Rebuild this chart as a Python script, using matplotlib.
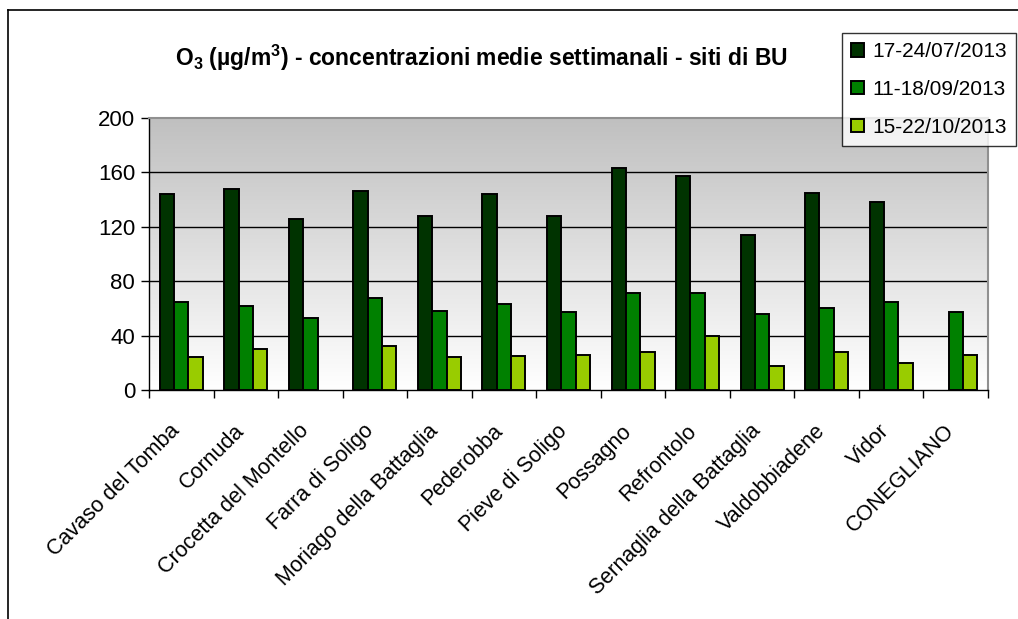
import numpy as np
import matplotlib
matplotlib.use('Agg')
import matplotlib.pyplot as plt
from matplotlib.lines import Line2D
from matplotlib.transforms import ScaledTranslation

plt.rcParams['font.family'] = ['Liberation Sans', 'DejaVu Sans']
plt.rcParams['mathtext.default'] = 'regular'

sites = ['Cavaso del Tomba', 'Cornuda', 'Crocetta del Montello', 'Farra di Soligo',
         'Moriago della Battaglia', 'Pederobba', 'Pieve di Soligo', 'Possagno',
         'Refrontolo', 'Sernaglia della Battaglia', 'Valdobbiadene', 'Vidor', 'CONEGLIANO']
periods = ['17-24/07/2013', '11-18/09/2013', '15-22/10/2013']
jul = [144, 148, 126, 146, 128, 144, 128, 163, 157, 114, 145, 138, np.nan]
sep = [65, 62, 53, 68, 58, 63, 57, 71, 71, 56, 60, 65, 57]
oct_ = [24, 30, np.nan, 32, 24, 25, 26, 28, 40, 18, 28, 20, 26]
colors = ['#003300', '#008000', '#99CC00']

fig = plt.figure(figsize=(10.18, 6.19), dpi=100, facecolor='white')
ax = fig.add_axes([149 / 1018, 229 / 619, 839 / 1018, 272 / 619])

# gradient background of the plot area
grad = np.linspace(1, 0, 256).reshape(-1, 1)
ax.imshow(grad, cmap=matplotlib.colors.LinearSegmentedColormap.from_list('bg', ['white', '#C0C0C0']),
          aspect='auto', extent=[0, 1, 0, 1], transform=ax.transAxes, zorder=0)

x = np.arange(len(sites))
w = 0.222
for i, (vals, lab) in enumerate(zip([jul, sep, oct_], periods)):
    ax.bar(x + (i - 1) * w, vals, width=w, color=colors[i], edgecolor='black',
           linewidth=1.4, label=lab, zorder=3)

ax.set_xlim(-0.5, len(sites) - 0.5)
ax.set_ylim(0, 200)
ax.set_yticks([0, 40, 80, 120, 160, 200])
for v in [40, 80, 120, 160]:
    ax.axhline(v, color='black', linewidth=1, zorder=1)

ax.set_xticks(x)
ax.set_xticklabels(sites, rotation=45, ha='right', rotation_mode='anchor', fontsize=15.5)
ax.tick_params(axis='x', which='major', length=0, pad=22)
shift = ScaledTranslation(-12 / 100, 0, fig.dpi_scale_trans)
for t in ax.get_xticklabels():
    t.set_transform(t.get_transform() + shift)
ax.set_xticks(np.arange(-0.5, len(sites), 1), minor=True)
ax.tick_params(axis='x', which='minor', length=6, width=1, direction='out')
ax.tick_params(axis='y', length=6, width=1, labelsize=16, pad=4)

for s in ['left', 'bottom']:
    ax.spines[s].set_color('black')
    ax.spines[s].set_linewidth(1)
for s in ['top', 'right']:
    ax.spines[s].set_color('#909090')
    ax.spines[s].set_linewidth(1.5)

fig.text(481 / 1018, 1 - 58 / 619, 'O$_3$ (µg/m$^3$) - concentrazioni medie settimanali - siti di BU',
         ha='center', va='center', fontsize=16.5, fontweight='bold')

leg = fig.legend(loc='upper right', bbox_to_anchor=(1016 / 1018, 1 - 33 / 619),
                 fontsize=15, frameon=True, fancybox=False, edgecolor='black',
                 handlelength=0.6, handleheight=0.6, handletextpad=0.4,
                 labelspacing=0.9, borderpad=0.45, borderaxespad=0)
leg.get_frame().set_linewidth(1)

# outer chart frame (left and top only)
fig.add_artist(Line2D([8 / 1018, 8 / 1018], [0, 1 - 10 / 619], transform=fig.transFigure,
                      color='black', linewidth=1.2))
fig.add_artist(Line2D([8 / 1018, 1], [1 - 10 / 619, 1 - 10 / 619], transform=fig.transFigure,
                      color='black', linewidth=1.2))

fig.savefig('out.png', dpi=100, facecolor='white')
